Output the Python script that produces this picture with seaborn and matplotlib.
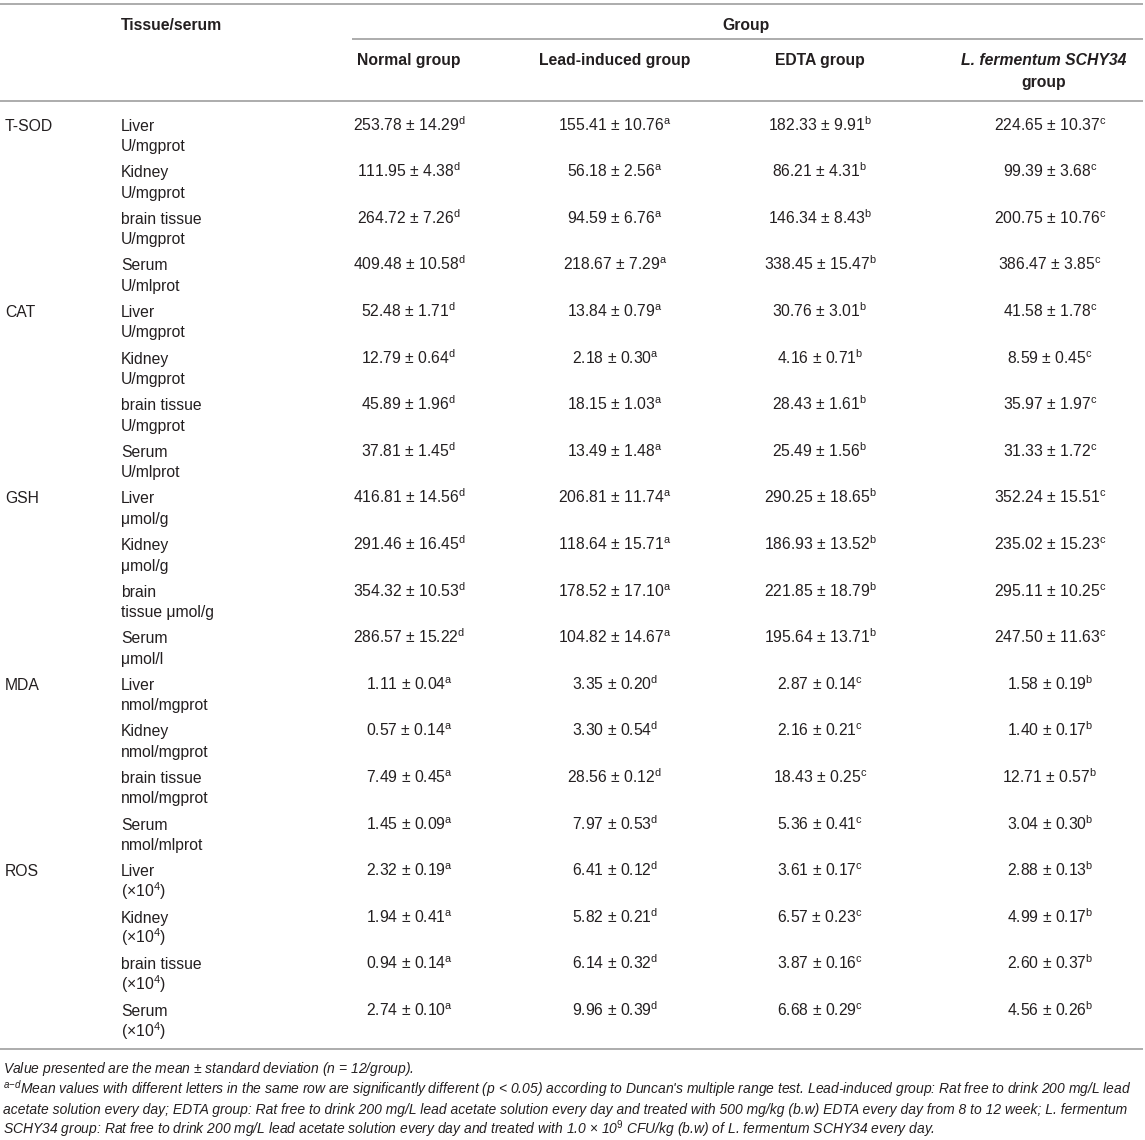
import matplotlib
matplotlib.use("Agg")
import matplotlib.pyplot as plt
import pandas as pd
import seaborn as sns

# Table content
indices = ["T-SOD", "CAT", "GSH", "MDA", "ROS"]
tissue = ["Liver", "Kidney", "brain tissue", "Serum"] * 5
tissue[10] = "brain"
unit = ["U/mgprot", "U/mgprot", "U/mgprot", "U/mlprot",
        "U/mgprot", "U/mgprot", "U/mgprot", "U/mlprot",
        "\u03bcmol/g", "\u03bcmol/g", "tissue \u03bcmol/g", "\u03bcmol/l",
        "nmol/mgprot", "nmol/mgprot", "nmol/mgprot", "nmol/mlprot",
        r"($\times$10$^{4}$)", r"($\times$10$^{4}$)", r"($\times$10$^{4}$)", r"($\times$10$^{4}$)"]

groups = ["Normal group", "Lead-induced group", "EDTA group", "L. fermentum SCHY34"]

normal_mean = [253.78, 111.95, 264.72, 409.48, 52.48, 12.79, 45.89, 37.81,
               416.81, 291.46, 354.32, 286.57, 1.11, 0.57, 7.49, 1.45,
               2.32, 1.94, 0.94, 2.74]
normal_sd = [14.29, 4.38, 7.26, 10.58, 1.71, 0.64, 1.96, 1.45,
             14.56, 16.45, 10.53, 15.22, 0.04, 0.14, 0.45, 0.09,
             0.19, 0.41, 0.14, 0.10]
lead_mean = [155.41, 56.18, 94.59, 218.67, 13.84, 2.18, 18.15, 13.49,
             206.81, 118.64, 178.52, 104.82, 3.35, 3.30, 28.56, 7.97,
             6.41, 5.82, 6.14, 9.96]
lead_sd = [10.76, 2.56, 6.76, 7.29, 0.79, 0.30, 1.03, 1.48,
           11.74, 15.71, 17.10, 14.67, 0.20, 0.54, 0.12, 0.53,
           0.12, 0.21, 0.32, 0.39]
edta_mean = [182.33, 86.21, 146.34, 338.45, 30.76, 4.16, 28.43, 25.49,
             290.25, 186.93, 221.85, 195.64, 2.87, 2.16, 18.43, 5.36,
             3.61, 6.57, 3.87, 6.68]
edta_sd = [9.91, 4.31, 8.43, 15.47, 3.01, 0.71, 1.61, 1.56,
           18.65, 13.52, 18.79, 13.71, 0.14, 0.21, 0.25, 0.41,
           0.17, 0.23, 0.16, 0.29]
lf_mean = [224.65, 99.39, 200.75, 386.47, 41.58, 8.59, 35.97, 31.33,
           352.24, 235.02, 295.11, 247.50, 1.58, 1.40, 12.71, 3.04,
           2.88, 4.99, 2.60, 4.56]
lf_sd = [10.37, 3.68, 10.76, 3.85, 1.78, 0.45, 1.97, 1.72,
         15.51, 15.23, 10.25, 11.63, 0.19, 0.17, 0.57, 0.30,
         0.13, 0.17, 0.37, 0.26]
normal_sig = "dddddddddddd" + "aaaaaaaa"
lead_sig = "aaaaaaaaaaaa" + "dddddddd"
edta_sig = "bbbbbbbbbbbb" + "cccccccc"
lf_sig = "cccccccccccc" + "bbbbbbbb"

footnotes = [
    r"Value presented are the mean $\pm$ standard deviation ($n$ = 12/group).",
    r"$^{a{-}d}$Mean values with different letters in the same row are significantly different ($p$ < 0.05) "
    r"according to Duncan's multiple range test. Lead-induced group: Rat free to drink 200 mg/L lead",
    "acetate solution every day; EDTA group: Rat free to drink 200 mg/L lead acetate solution every day "
    "and treated with 500 mg/kg (b.w) EDTA every day from 8 to 12 week; L. fermentum",
    r"SCHY34 group: Rat free to drink 200 mg/L lead acetate solution every day and treated with "
    r"1.0 $\times$ 10$^{9}$ CFU/kg (b.w) of L. fermentum SCHY34 every day.",
]


def cell(means, sds, sig):
    return [f"{m:.2f} \u00b1 {s:.2f}$^{{\\mathrm{{{l}}}}}$" for m, s, l in zip(means, sds, sig)]


df = pd.DataFrame({
    "index": [i for i in indices for _ in range(4)],
    "tissue": tissue, "unit": unit,
    "normal": cell(normal_mean, normal_sd, normal_sig),
    "lead": cell(lead_mean, lead_sd, lead_sig),
    "edta": cell(edta_mean, edta_sd, edta_sig),
    "lf": cell(lf_mean, lf_sd, lf_sig),
})

sns.set_theme(style="white")
plt.rcParams["font.family"] = ["Liberation Sans", "DejaVu Sans"]
plt.rcParams["mathtext.fontset"] = "custom"
plt.rcParams["mathtext.rm"] = "Liberation Sans"
plt.rcParams["mathtext.it"] = "Liberation Sans:italic"
plt.rcParams["mathtext.bf"] = "Liberation Sans:bold"

ink = "#231f20"
rule = "#a6a6a6"
fs = 11.3

fig = plt.figure(figsize=(11.45, 11.4), dpi=100)
ax = fig.add_axes([0, 0, 1, 1])
ax.set_xlim(0, 1145)
ax.set_ylim(1140, 0)
ax.axis("off")

# rules
ax.hlines([4, 101, 1049], 0, 1143, color=rule, lw=1.3)
ax.hlines(39, 352, 1143, color=rule, lw=1.3)

# header
col_x = [409, 615, 820, 1050]
ax.text(121, 29.6, "Tissue/serum", fontsize=fs, fontweight="bold", color=ink)
ax.text(746, 29.6, "Group", fontsize=fs, fontweight="bold", color=ink, ha="center")
for x, g in zip(col_x, groups):
    italic = g.startswith("L.")
    ax.text(x - 6 if italic else x, 65, g, fontsize=fs, fontweight="bold", color=ink,
            ha="center", style="italic" if italic else "normal")
ax.text(col_x[3] - 6, 86.6, "group", fontsize=fs, fontweight="bold", color=ink, ha="center")

# body
y0, step, sub = 130.6, 46.6, 20.5
for i, row in df.iterrows():
    y = y0 + i * step
    if i % 4 == 0:
        ax.text(5, y, row["index"], fontsize=fs, color=ink)
    ax.text(121, y, row["tissue"], fontsize=fs, color=ink)
    ax.text(121, y + sub, row["unit"], fontsize=fs, color=ink)
    for x, c in zip(col_x, ["normal", "lead", "edta", "lf"]):
        ax.text(x, y, row[c], fontsize=fs, color=ink, ha="center")

# footnotes
for k, line in enumerate(footnotes):
    ax.text(3, 1073 + k * 20.3, line, fontsize=10.0, style="italic", color=ink)

fig.savefig("out.png", dpi=100)
